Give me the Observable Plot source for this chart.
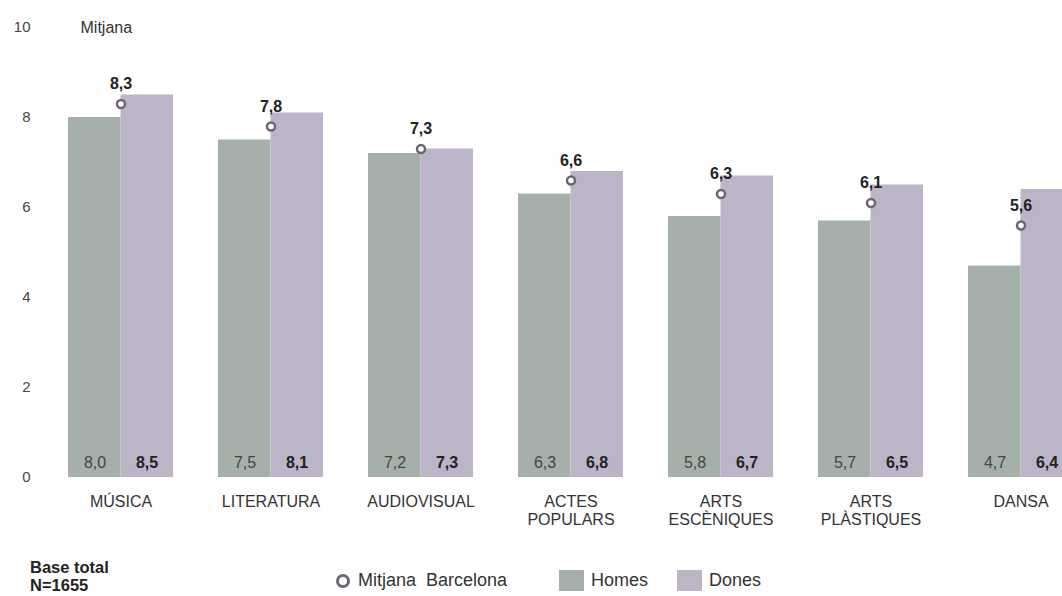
<!DOCTYPE html>
<html>
<head>
<meta charset="utf-8">
<script src="https://cdn.jsdelivr.net/npm/d3@7"></script>
<script src="https://cdn.jsdelivr.net/npm/@observablehq/plot@0.6"></script>
<style>
  html, body { margin: 0; padding: 0; background: #fff; overflow: hidden; width: 1062px; height: 596px; }
  body { font-family: "Liberation Sans", Arial, sans-serif; position: relative; }
  #chart svg { display: block; overflow: hidden; }
  #base { position: absolute; left: 30px; top: 558px; font-weight: bold; font-size: 16.5px; line-height: 18px; color: #222; }
  #legend { position: absolute; top: 570px; left: 0; font-size: 18px; color: #333; }
  .item { position: absolute; white-space: nowrap; display: flex; align-items: center; height: 21px; }
  .sw { display: inline-block; width: 25px; height: 21px; margin-right: 7px; }
  .ring { display: inline-block; width: 8px; height: 8px; border: 3px solid #6b6670; border-radius: 50%; margin-right: 8px; }
</style>
</head>
<body>
<div id="chart"></div>
<div id="base">Base total<br>N=1655</div>
<div id="legend">
  <div class="item" style="left:336px"><span class="ring"></span>Mitjana&nbsp; Barcelona</div>
  <div class="item" style="left:559px"><span class="sw" style="background:#a5b0ab"></span>Homes</div>
  <div class="item" style="left:677px"><span class="sw" style="background:#bcb5c7"></span>Dones</div>
</div>
<script>
const categories = ["MÚSICA", "LITERATURA", "AUDIOVISUAL", "ACTES\nPOPULARS", "ARTS\nESCÈNIQUES", "ARTS\nPLÀSTIQUES", "DANSA"];
const homes = [8.0, 7.5, 7.2, 6.3, 5.8, 5.7, 4.7];
const dones = [8.5, 8.1, 7.3, 6.8, 6.7, 6.5, 6.4];
const mitjanaBarcelona = [8.3, 7.8, 7.3, 6.6, 6.3, 6.1, 5.6];
const yTicks = [0, 2, 4, 6, 8, 10];

const rows = categories.map((c, i) => ({cat: c, homes: homes[i], dones: dones[i], bcn: mitjanaBarcelona[i]}));
const fmt = v => v.toFixed(1).replace(".", ",");
const half = 52.5;

const chart = Plot.plot({
  width: 1062,
  height: 545,
  marginTop: 27,
  marginBottom: 68,
  marginLeft: 40,
  marginRight: 0,
  style: {fontFamily: "Liberation Sans, Arial, sans-serif", background: "#fff"},
  x: {domain: categories, range: [45, 1095], paddingInner: 0.3, paddingOuter: 0.15, axis: null},
  y: {domain: [0, 10], ticks: yTicks, tickSize: 0, tickPadding: 10, label: null},
  marks: [
    Plot.axisY({ticks: yTicks, tickSize: 0, tickPadding: 10, label: null, fontSize: 15, color: "#444"}),
    Plot.barY(rows, {x: "cat", y: "homes", fill: "#a5b0ab", insetRight: half}),
    Plot.barY(rows, {x: "cat", y: "dones", fill: "#bcb5c7", insetLeft: half}),
    Plot.text(rows, {x: "cat", y: 0, text: d => fmt(d.homes), dx: -26, dy: -15, fontSize: 16, fill: "#444"}),
    Plot.text(rows, {x: "cat", y: 0, text: d => fmt(d.dones), dx: 26, dy: -15, fontSize: 16, fontWeight: "bold", fill: "#222"}),
    Plot.dot(rows, {x: "cat", y: "bcn", r: 4, stroke: "#6b6670", strokeWidth: 2.5, fill: "#fff"}),
    Plot.text(rows, {x: "cat", y: "bcn", text: d => fmt(d.bcn), dy: -20, fontSize: 16, fontWeight: "bold", fill: "#222"}),
    Plot.text(rows, {x: "cat", y: 0, text: "cat", dy: 17, lineAnchor: "top", fontSize: 16, fill: "#333", lineHeight: 1.125}),
    Plot.text(["Mitjana"], {frameAnchor: "top-left", dx: 40, lineAnchor: "middle", text: d => d, textAnchor: "start", fontSize: 16, fill: "#333"})
  ]
});
document.getElementById("chart").appendChild(chart);
</script>
</body>
</html>
